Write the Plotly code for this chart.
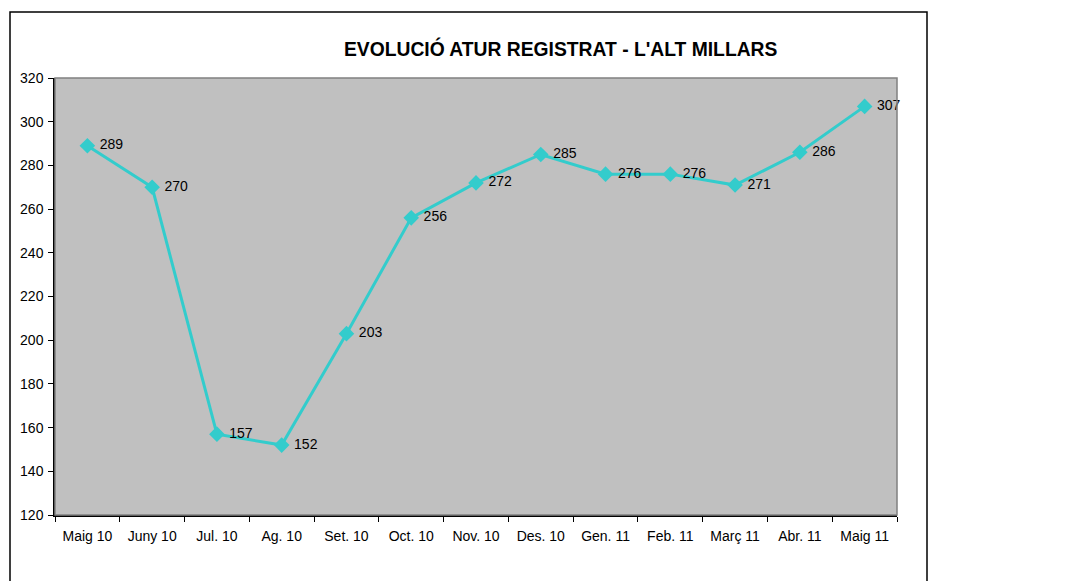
import plotly.graph_objects as go

# monthly registered unemployment, L'Alt Millars
months = ['Maig 10', 'Juny 10', 'Jul. 10', 'Ag. 10', 'Set. 10', 'Oct. 10', 'Nov. 10',
          'Des. 10', 'Gen. 11', 'Feb. 11', 'Març 11', 'Abr. 11', 'Maig 11']
atur = [289, 270, 157, 152, 203, 256, 272, 285, 276, 276, 271, 286, 307]

y_ticks = list(range(120, 321, 20))

# page body adds an 8px margin, so work in page pixels and shift back
OFF = 8
W, H = 1088, 581
left, right, top, bottom = 55 - OFF, 897 - OFF, 78 - OFF, 515 - OFF
pw, ph = right - left, bottom - top


def px_x(x):
    return (x - OFF - left) / pw


def px_y(y):
    return (bottom - (y - OFF)) / ph


fig = go.Figure()
fig.add_trace(go.Scatter(
    x=months,
    y=atur,
    mode='lines+markers+text',
    line=dict(color='#33CCCC', width=3),
    marker=dict(symbol='diamond', size=12, color='#33CCCC'),
    text=[' ' + str(v) for v in atur],
    textposition='middle right',
    textfont=dict(family='Liberation Sans, Arial', size=14, color='black'),
    cliponaxis=False,
    showlegend=False,
))

fig.update_layout(
    width=W, height=H,
    margin=dict(l=left, r=W - right, t=top, b=H - bottom),
    paper_bgcolor='white',
    plot_bgcolor='#C0C0C0',
    font=dict(family='Liberation Sans, Arial', size=14, color='black'),
    xaxis=dict(
        type='category',
        range=[-0.5, len(months) - 0.5],
        tickson='boundaries',
        ticks='outside', ticklen=5, tickcolor='black',
        ticklabelstandoff=7,
        showline=True, linecolor='black', linewidth=1.5,
        showgrid=False, zeroline=False,
        tickfont=dict(size=14),
    ),
    yaxis=dict(
        range=[120, 320],
        tickvals=y_ticks,
        ticks='outside', ticklen=5, tickcolor='black',
        ticklabelstandoff=2,
        showline=True, linecolor='black', linewidth=1.5,
        showgrid=False, zeroline=False,
        tickfont=dict(size=14),
    ),
    shapes=[
        # gray frame around plot area (top/right)
        dict(type='rect', xref='paper', yref='paper', x0=0, x1=1, y0=0, y1=1,
             line=dict(color='#808080', width=1.5)),
        # outer chart border
        dict(type='rect', xref='paper', yref='paper',
             x0=px_x(10), x1=px_x(927), y0=px_y(620), y1=px_y(12),
             line=dict(color='black', width=1.5)),
    ],
    annotations=[
        dict(text="<b>EVOLUCIÓ ATUR REGISTRAT - L'ALT MILLARS</b>",
             xref='paper', yref='paper', x=px_x(561), y=px_y(48),
             xanchor='center', yanchor='middle', showarrow=False,
             font=dict(size=19.3, color='black')),
    ],
)

fig.write_html('out.html')
